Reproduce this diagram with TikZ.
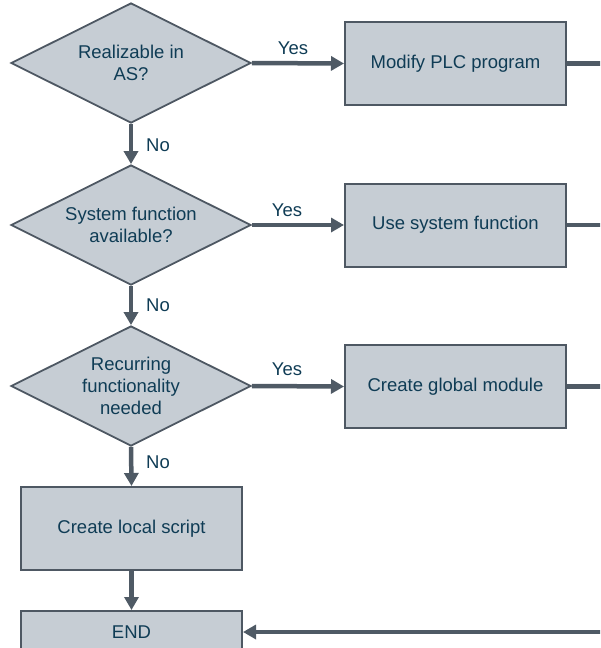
\documentclass[tikz,border=0pt]{standalone}
\usepackage{fontspec}
\setmainfont{Liberation Sans}
\usetikzlibrary{shapes.geometric,arrows.meta}
\definecolor{boxfill}{HTML}{C6CDD4}
\definecolor{boxline}{HTML}{4E5863}
\definecolor{linkcol}{HTML}{4F5A65}
\definecolor{txtcol}{HTML}{0F3C55}
\tikzset{
  every node/.style={font=\fontsize{18.5}{22}\selectfont, text=txtcol},
  decision/.style={diamond, aspect=2, draw=boxline, line width=1.8pt, fill=boxfill,
    minimum width=240pt, minimum height=120pt, inner sep=0pt, align=center},
  action/.style={rectangle, draw=boxline, line width=2pt, fill=boxfill,
    minimum width=221pt, minimum height=83pt, inner sep=0pt, align=center},
  link/.style={draw=linkcol, line width=4.5pt,
    -{Triangle[length=13pt,width=14pt]}},
  plainlink/.style={draw=linkcol, line width=4.5pt},
  tag/.style={inner sep=0pt}
}
\begin{document}
\begin{tikzpicture}[x=1pt,y=-1pt]
\useasboundingbox (0,0) rectangle (600,648);
\clip (0,0) rectangle (600,648);

% decisions
\node[decision] (d1) at (131,63) {Realizable in\\AS?};
\node[decision] (d2) at (131,225) {System function\\available?};
\node[decision] (d3) at (131,386) {Recurring\\functionality\\needed};

% actions
\node[action] (a1) at (455.5,63.5) {Modify PLC program};
\node[action] (a2) at (455.5,225) {Use system function};
\node[action] (a3) at (455.5,386.5) {Create global module};
\node[action] (local) at (131.5,528.5) {Create local script};
\node[action, minimum height=42pt] (endbox) at (131.5,632) {END};

% return line on the right
\coordinate (r1) at (610,63.5);
\coordinate (r2) at (610,225);
\coordinate (r3) at (610,386.5);
\coordinate (r4) at (610,632);

% yes branches
\draw[link] (d1.east) -- (a1.west);
\draw[link] (d2.east) -- (a2.west);
\draw[link] (d3.east) -- (a3.west);
\node[tag] (y1) at (293,48) {Yes};
\node[tag] (y2) at (287,210) {Yes};
\node[tag] (y3) at (287,369) {Yes};

% no branches
\draw[link] (d1.south) -- (d2.north);
\draw[link] (d2.south) -- (d3.north);
\draw[link] (d3.south) -- (local.north);
\node[tag] (n1) at (158,145) {No};
\node[tag] (n2) at (158,305) {No};
\node[tag] (n3) at (158,462) {No};

\draw[link] (local.south) -- (endbox.north);

% outgoing lines to the right
\draw[plainlink] (a1.east) -- (r1);
\draw[plainlink] (a2.east) -- (r2);
\draw[plainlink] (a3.east) -- (r3);
\draw[link] (r4) -- (endbox.east);
\end{tikzpicture}
\end{document}
